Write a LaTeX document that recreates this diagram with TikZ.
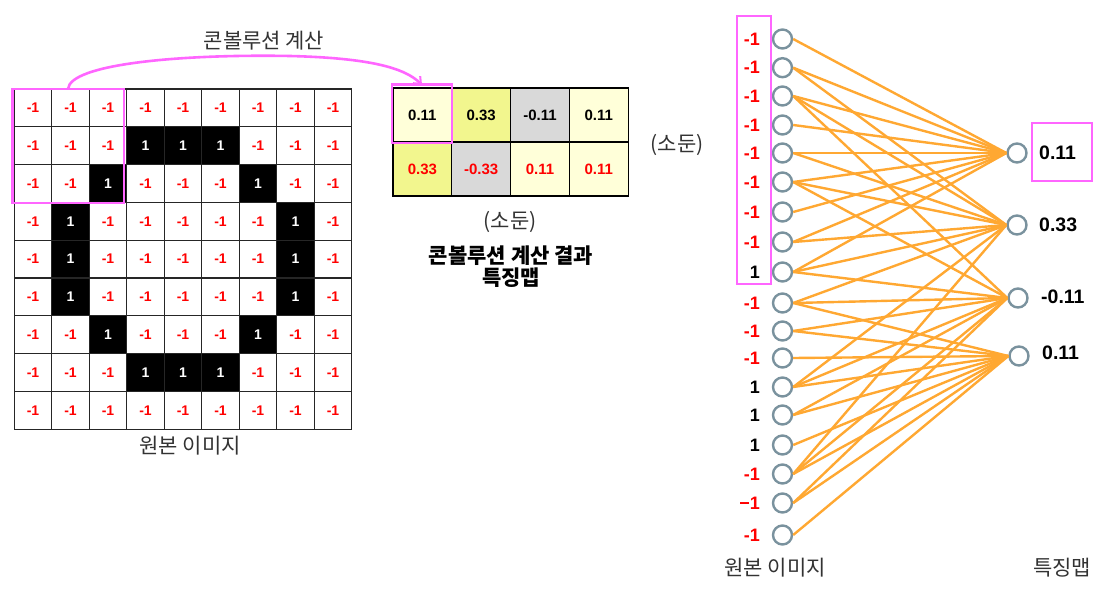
\documentclass[tikz,border=0pt]{standalone}
\usepackage{fontspec}
\setmainfont{Liberation Sans}
\newfontfamily\kr{Noto Sans CJK KR}
\usetikzlibrary{arrows.meta}
\definecolor{mag}{RGB}{255,102,255}
\definecolor{org}{RGB}{255,168,50}
\definecolor{cgray}{RGB}{122,146,158}
\definecolor{lyel}{RGB}{255,255,217}
\definecolor{yel}{RGB}{242,246,142}
\definecolor{fgray}{RGB}{217,217,217}
\definecolor{txtgray}{RGB}{51,51,51}
\tikzset{
  gridcell/.style={draw=black!85, line width=1.3pt, minimum width=37.5pt, minimum height=37.8pt, inner sep=0pt, font=\bfseries\fontsize{14}{16}\selectfont},
  whitecell/.style={gridcell, fill=white, text=red},
  blackcell/.style={gridcell, fill=black, text=white},
  fmcell/.style={draw=black, line width=1.3pt, minimum width=58.8pt, minimum height=54pt, inner sep=0pt, font=\bfseries\fontsize{15}{17}\selectfont},
  hl/.style={draw=mag, line width=2.6pt},
  krlabel/.style={font=\kr\fontsize{21}{24}\selectfont, text=txtgray, inner sep=0pt},
  krbold/.style={font=\kr\bfseries\fontsize{21}{22}\selectfont, text=black, inner sep=0pt, align=center},
  neuron/.style={circle, draw=cgray, line width=2.4pt, fill=white, minimum size=19pt, inner sep=0pt},
  inlabel/.style={font=\bfseries\fontsize{18}{20}\selectfont, anchor=east, inner sep=0pt},
  outlabel/.style={font=\bfseries\fontsize{19.5}{21}\selectfont, anchor=west, inner sep=0pt, text=black},
  edge/.style={draw=org, line width=2.4pt},
}
\begin{document}
\begin{tikzpicture}[x=1pt,y=-1pt]
\useasboundingbox[fill=white] (0,0) rectangle (1106,599);

% ---------- original image grid ----------
\foreach \r in {0,...,8}{
  \foreach \c in {0,...,8}{
    \pgfmathtruncatemacro\blk{((\r==1||\r==7)&&(\c>2&&\c<6)) || ((\r==2||\r==6)&&(\c==2||\c==6)) || ((\r>2&&\r<6)&&(\c==1||\c==7))}
    \ifnum\blk=1
      \node[blackcell] (g\r\c) at ({14.3+37.5*(\c+0.5)},{89+37.8*(\r+0.5)}) {1};
    \else
      \node[whitecell] (g\r\c) at ({14.3+37.5*(\c+0.5)},{89+37.8*(\r+0.5)}) {-1};
    \fi
  }
}
\draw[hl] (12.3,89) rectangle (124,203);
\coordinate (arrstart) at (68,89);
\node[krlabel] (gridlbl) at (190,446) {원본 이미지};
\node[krlabel] (convlbl) at (264,41) {콘볼루션 계산};

% ---------- feature map ----------
\node[fmcell, fill=lyel] (f00) at (422.4,115) {0.11};
\node[fmcell, fill=yel] (f01) at (481.2,115) {0.33};
\node[fmcell, fill=fgray] (f02) at (540,115) {-0.11};
\node[fmcell, fill=lyel] (f03) at (598.8,115) {0.11};
\node[fmcell, fill=yel, text=red] (f10) at (422.4,169) {0.33};
\node[fmcell, fill=fgray, text=red] (f11) at (481.2,169) {-0.33};
\node[fmcell, fill=lyel, text=red] (f12) at (540,169) {0.11};
\node[fmcell, fill=lyel, text=red] (f13) at (598.8,169) {0.11};
\draw[hl] (392,84.5) rectangle (452,143);
\coordinate (arrend) at (422,85);
\draw[draw=mag, line width=2.6pt, -{Straight Barb[length=6pt,width=10pt,line width=2pt]}]
  (arrstart) .. controls (70,64) and (180,54) .. (290,56) .. controls (370,58) and (405,68) .. (arrend);

\node[krlabel] (omit1) at (677,145) {(소둔)};
\node[krlabel] (omit2) at (510,222) {(소둔)};
\node[krbold] (fmlbl) at (511,267) {콘볼루션 계산 결과\\특징맵};

% ---------- network ----------
\foreach \i/\y/\v/\col in {1/39/-1/red, 2/67.7/-1/red, 3/96/-1/red, 4/125/-1/red, 5/153/-1/red, 6/182/-1/red, 7/212/-1/red, 8/242/-1/red, 9/272/1/black, 10/303/-1/red, 11/331/-1/red, 12/358/-1/red, 13/387/1/black, 14/415/1/black, 15/445/1/black, 16/474/-1/red, 17/503/−1/red, 18/535/-1/red}{
  \node[neuron] (in\i) at (782.5,\y) {};
  \node[inlabel, text=\col] (lab\i) at (760,\y) {\v};
}
\draw[hl] (737,16) rectangle (771,284);

\node[neuron] (out1) at (1017,153) {};
\node[neuron] (out2) at (1017,225) {};
\node[neuron] (out3) at (1018,298) {};
\node[neuron] (out4) at (1019,356) {};

\foreach \i in {1,...,9}{\draw[edge] (in\i.east) -- (out1.west);}
\foreach \i in {2,3,5,6,8,9,10,13,16}{\draw[edge] (in\i.east) -- (out2.west);}
\foreach \i in {3,6,9,10,11,13,14,16,17}{\draw[edge] (in\i.east) -- (out3.west);}
\foreach \i in {10,...,18}{\draw[edge] (in\i.east) -- (out4.west);}

\node[outlabel] (o1) at (1039,153) {0.11};
\node[outlabel] (o2) at (1039,225) {0.33};
\node[outlabel] (o3) at (1041,297) {-0.11};
\node[outlabel] (o4) at (1042,353) {0.11};
\draw[hl] (1032,123) rectangle (1092,181);

\node[krlabel] (netin) at (775,568) {원본 이미지};
\node[krlabel] (netout) at (1062,568) {특징맵};
\end{tikzpicture}
\end{document}
